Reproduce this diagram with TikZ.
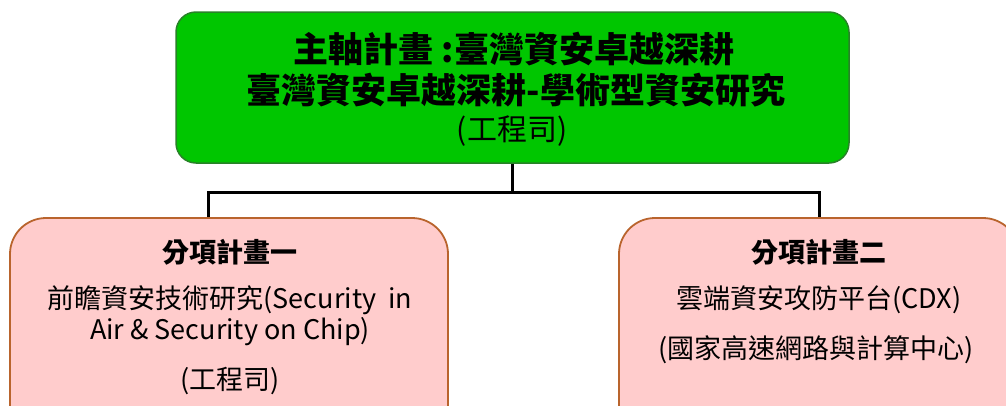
\documentclass[tikz,border=0pt]{standalone}
\usepackage{fontspec}
\setmainfont{Noto Sans CJK TC}
\definecolor{mygreen}{RGB}{0,198,0}
\definecolor{mygreenline}{RGB}{40,130,40}
\definecolor{mypink}{RGB}{255,204,204}
\definecolor{mybrown}{RGB}{185,100,45}
\tikzset{
  topbox/.style={draw=mygreenline, fill=mygreen, line width=1.5pt, rounded corners=20pt, inner sep=0pt},
  subbox/.style={draw=mybrown, fill=mypink, line width=1.8pt, rounded corners=36pt, inner sep=0pt},
  conn/.style={draw=black, line width=3pt},
  txt/.style={inner sep=0pt, anchor=center},
}
\begin{document}
\begin{tikzpicture}[x=1pt,y=-1pt]
\useasboundingbox (0,0) rectangle (1006,405);
\clip (0,0) rectangle (1006,405);
% boxes
\node[topbox, minimum width=673pt, minimum height=151pt] (top) at (512.5,87.5) {};
\node[subbox, minimum width=438pt, minimum height=230pt] (left) at (229,333) {};
\node[subbox, minimum width=400pt, minimum height=230pt] (right) at (819,333) {};
% connectors
\coordinate (j) at (top.south |- 0,192);
\coordinate (lj) at (208,192);
\coordinate (rj) at (right.north |- 0,192);
\draw[conn] (top.south) -- (j);
\draw[conn, line cap=rect] (lj) -- (rj);
\draw[conn] (lj) -- (left.north -| lj);
\draw[conn] (rj) -- (right.north);
% top texts
\node[txt, font=\fontsize{35}{35}\selectfont\bfseries] (t1) at (514,49) {主軸計畫 :臺灣資安卓越深耕};
\node[txt, font=\fontsize{35}{35}\selectfont\bfseries] (t2) at (516,90) {臺灣資安卓越深耕-學術型資安研究};
\node[txt, font=\fontsize{30}{30}\selectfont] (t3) at (512,131) {(工程司)};
% left texts
\node[txt, font=\fontsize{27}{27}\selectfont\bfseries] (l1) at (230,252) {分項計畫一};
\node[txt, font=\fontsize{27}{27}\selectfont] (l2) at (230,300) {前瞻資安技術研究(Security\ \ in};
\node[txt, font=\fontsize{27}{27}\selectfont] (l3) at (230,332) {Air \& Security on Chip)};
\node[txt, font=\fontsize{27}{27}\selectfont] (l4) at (230,381) {(工程司)};
% right texts
\node[txt, font=\fontsize{27}{27}\selectfont\bfseries] (r1) at (819,252) {分項計畫二};
\node[txt, font=\fontsize{27}{27}\selectfont] (r2) at (819,300) {雲端資安攻防平台(CDX)};
\node[txt, font=\fontsize{27}{27}\selectfont] (r3) at (816,350) {(國家高速網路與計算中心)};
\end{tikzpicture}
\end{document}
